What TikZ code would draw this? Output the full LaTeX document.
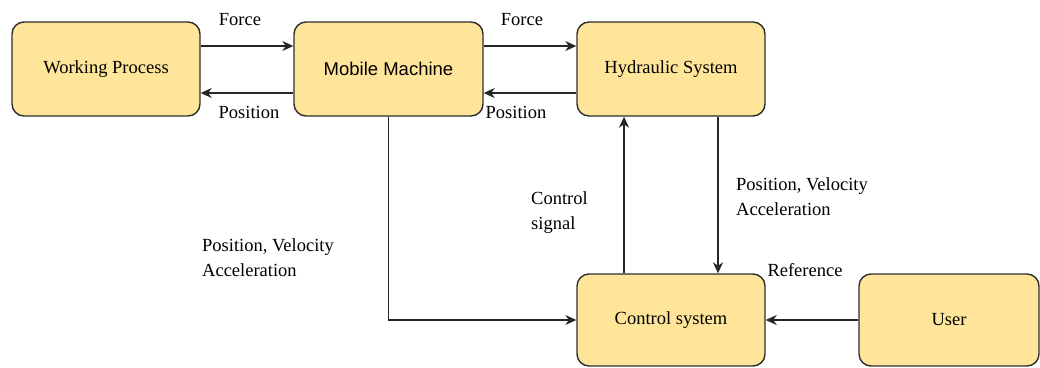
\documentclass[tikz,border=0pt]{standalone}
\usepackage{fontspec}
\setmainfont{Liberation Serif}
\newfontfamily\timesfont{Liberation Serif}
\newfontfamily\arialfont{Liberation Sans}
\usetikzlibrary{arrows.meta}
\definecolor{boxfill}{HTML}{FFE599}
\definecolor{boxline}{HTML}{2E2E2E}
\tikzset{
  blk/.style={draw=boxline, fill=boxfill, line width=1.4pt, rounded corners=12pt,
    minimum width=188pt, minimum height=94pt, inner sep=0pt,
    font=\timesfont\fontsize{18.5}{22}\selectfont},
  conn/.style={draw=black!85, line width=1.4pt, -{Stealth[length=11pt,width=10pt,inset=3.5pt]}},
  lbl/.style={inner sep=0pt, font=\timesfont\fontsize{18.5}{25}\selectfont, align=left},
}
\begin{document}
\begin{tikzpicture}[x=1pt,y=-1pt]
\useasboundingbox (0,0) rectangle (1040,367);
\node[blk] (wp) at (106,69) {Working Process};
\node[blk, minimum width=189pt, font=\arialfont\fontsize{18.5}{22}\selectfont] (mm) at (388.5,69) {Mobile Machine};
\node[blk] (hyd) at (671,69) {Hydraulic System};
\node[blk, minimum height=92pt] (ctrl) at (671,320) {Control system};
\node[blk, minimum width=180pt, minimum height=92pt] (user) at (949,320) {User};

\draw[conn] ([yshift=23pt]wp.east) -- ([yshift=23pt]mm.west);
\draw[conn] ([yshift=-24pt]mm.west) -- ([yshift=-24pt]wp.east);
\draw[conn] ([yshift=23pt]mm.east) -- ([yshift=23pt]hyd.west);
\draw[conn] ([yshift=-24pt]hyd.west) -- ([yshift=-24pt]mm.east);
\draw[conn] (mm.south) |- (ctrl.west);
\draw[conn] ([xshift=-47pt]ctrl.north) -- ([xshift=-47pt]hyd.south);
\draw[conn] ([xshift=47pt]hyd.south) -- ([xshift=47pt]ctrl.north);
\draw[conn] (user.west) -- (ctrl.east);

\node[lbl, anchor=base] (l1) at (240,25) {Force};
\node[lbl, anchor=base] (l2) at (249,118) {Position};
\node[lbl, anchor=base] (l3) at (522,25) {Force};
\node[lbl, anchor=base] (l4) at (516,118) {Position};
\node[lbl, anchor=base] (l5) at (805,276) {Reference};
\node[lbl, anchor=north west] (l6) at (202,238.5) {Position, Velocity\\Acceleration};
\node[lbl, anchor=north west] (l7) at (736,177.5) {Position, Velocity\\Acceleration};
\node[lbl, anchor=north west] (l8) at (531,191.5) {Control\\signal};
\end{tikzpicture}
\end{document}
